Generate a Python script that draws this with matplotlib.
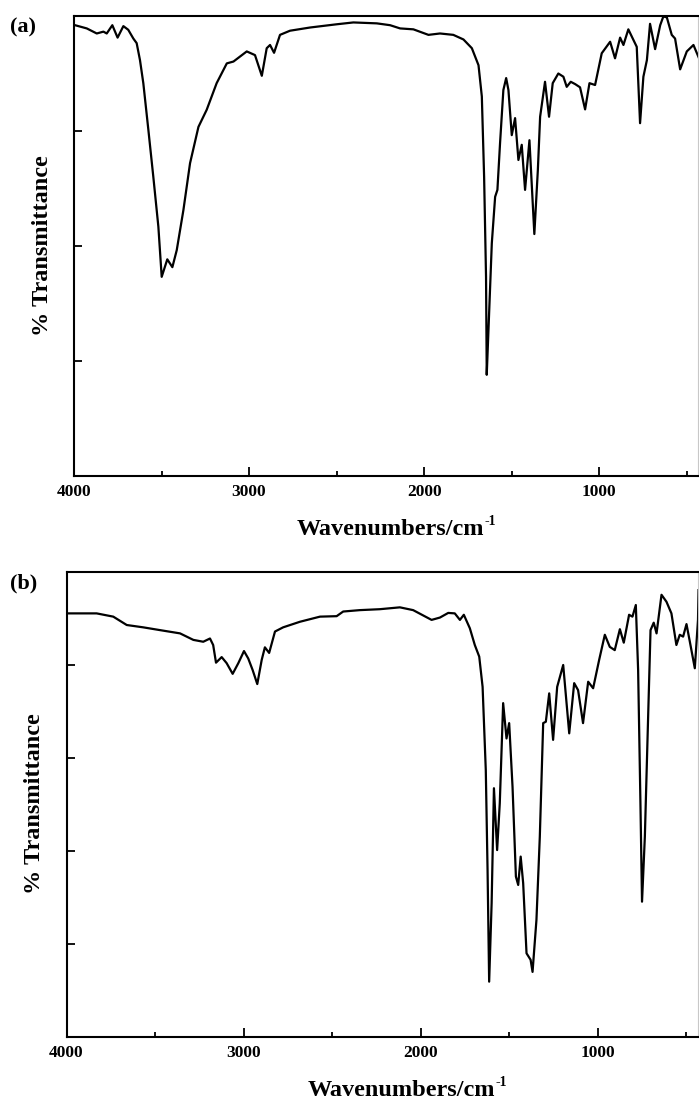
import matplotlib
matplotlib.use("Agg")
import matplotlib.pyplot as plt
from matplotlib.ticker import MultipleLocator

plt.rcParams['font.family'] = ['Liberation Serif', 'DejaVu Serif']
plt.rcParams['font.weight'] = 'bold'

# ---- Panel (a) spectrum ----
wn_a = [3994, 3927, 3870, 3832, 3813, 3781, 3751, 3718, 3690, 3661, 3642, 3623, 3604,
        3575, 3547, 3518, 3499, 3467, 3438, 3413, 3375, 3337, 3289, 3242, 3185, 3127,
        3089, 3013, 2966, 2927, 2899, 2880, 2857, 2823, 2766, 2651, 2499, 2404, 2270,
        2194, 2137, 2061, 1975, 1909, 1833, 1775, 1727, 1689, 1670, 1657, 1646, 1642,
        1638, 1613, 1594, 1581, 1566, 1547, 1531, 1518, 1499, 1480, 1461, 1442, 1423,
        1398, 1370, 1350, 1337, 1309, 1286, 1265, 1233, 1204, 1185, 1162, 1137, 1109,
        1080, 1055, 1023, 985, 937, 909, 880, 861, 833, 804, 785, 766, 747, 727, 709,
        680, 651, 633, 613, 585, 566, 537, 499, 461, 429]
tr_a = [98.0, 97.3, 96.2, 96.6, 96.2, 98.0, 95.3, 97.8, 97.0, 95.1, 94.1, 90.4, 85.4,
        75.2, 65.1, 54.2, 43.3, 47.1, 45.4, 49.1, 57.8, 68.0, 75.9, 79.6, 85.4, 89.7,
        90.1, 92.3, 91.5, 87.0, 93.0, 93.7, 92.0, 95.9, 96.8, 97.5, 98.2, 98.6, 98.4,
        98.0, 97.3, 97.1, 95.9, 96.2, 95.9, 94.9, 93.0, 89.3, 82.5, 65.1, 43.3, 22.0,
        25.9, 50.6, 60.7, 62.2, 72.3, 83.9, 86.5, 83.9, 74.1, 77.8, 68.7, 72.0, 62.2,
        73.0, 52.6, 66.5, 78.1, 85.7, 78.1, 85.4, 87.5, 86.8, 84.6, 85.7, 85.2, 84.5,
        79.7, 85.4, 85.0, 91.9, 94.4, 90.8, 95.3, 93.7, 97.1, 94.8, 93.3, 76.7, 86.8,
        90.4, 98.3, 92.8, 98.0, 99.9, 99.7, 95.9, 95.1, 88.4, 92.3, 93.7, 90.8]

# ---- Panel (b) spectrum ----
wn_b = [3999, 3830, 3736, 3660, 3567, 3472, 3359, 3284, 3228, 3190, 3172, 3156, 3124,
        3096, 3062, 3030, 2998, 2974, 2949, 2923, 2898, 2880, 2856, 2823, 2777, 2682,
        2569, 2475, 2438, 2344, 2231, 2118, 2043, 1939, 1892, 1845, 1808, 1779, 1757,
        1723, 1695, 1670, 1651, 1633, 1623, 1614, 1600, 1587, 1569, 1554, 1535, 1516,
        1501, 1482, 1463, 1450, 1436, 1422, 1403, 1380, 1369, 1347, 1328, 1309, 1294,
        1275, 1253, 1230, 1196, 1162, 1134, 1112, 1084, 1055, 1027, 993, 961, 933, 905,
        876, 854, 824, 805, 786, 773, 760, 751, 735, 717, 703, 685, 669, 641, 613, 585,
        557, 538, 519, 500, 481, 453, 435, 432]
tr_b = [91.1, 91.1, 90.4, 88.6, 88.1, 87.5, 86.8, 85.4, 85.0, 85.7, 84.3, 80.5, 81.7,
        80.4, 78.1, 80.4, 83.0, 81.4, 78.9, 75.9, 81.1, 83.8, 82.6, 87.2, 88.1, 89.3,
        90.4, 90.5, 91.5, 91.8, 92.0, 92.4, 91.8, 89.7, 90.2, 91.2, 91.1, 89.7, 90.8,
        87.9, 84.3, 81.8, 75.3, 57.4, 35.9, 11.9, 28.8, 53.5, 40.2, 50.3, 71.8, 64.2,
        67.5, 53.8, 34.5, 32.7, 38.8, 33.1, 18.0, 16.6, 14.0, 25.2, 43.1, 67.5, 67.8,
        73.9, 63.9, 75.3, 80.0, 65.3, 76.1, 74.6, 67.5, 76.4, 75.0, 81.1, 86.5, 83.9, 83.2,
        87.7, 84.8, 90.8, 90.4, 92.9, 78.9, 50.3, 29.1, 43.1, 68.2, 87.5, 89.1, 86.8, 95.1,
        93.6, 91.1, 84.3, 86.5, 86.1, 88.8, 85.0, 79.3, 89.7, 96.1]

panel_labels = ['(a)', '(b)']
xlabel_main = 'Wavenumbers/cm'
xlabel_sup = '-1'
ylabel_text = '% Transmittance'
xticks_major = [4000, 3000, 2000, 1000]

W, H = 699, 1100
fig = plt.figure(figsize=(W / 100, H / 100), dpi=100)

def px_axes(left, top, right, bottom):
    return fig.add_axes([left / W, 1 - bottom / H, (right - left) / W, (bottom - top) / H])

ax_a = px_axes(74, 16, 698, 476)
ax_b = px_axes(66.5, 572, 698, 1037)

configs = [
    (ax_a, wn_a, tr_a, 25, (390, 535), (43, 246), (10, 27), panel_labels[0]),
    (ax_b, wn_b, tr_b, 20, (401, 1096), (35, 804), (10, 583), panel_labels[1]),
]

main_texts = []
for ax, wn, tr, ystep, xl_pos, yl_pos, pl_pos, plab in configs:
    ax.plot(wn, tr, color='black', lw=1.6, solid_joinstyle='round')
    ax.set_xlim(4000, 435)
    ax.set_ylim(0, 100)
    ax.set_xticks(xticks_major)
    ax.xaxis.set_minor_locator(MultipleLocator(500))
    ax.set_yticks([t for t in range(ystep, 100, ystep)])
    ax.set_yticklabels([])
    ax.tick_params(axis='x', which='major', direction='in', length=6.5, width=1.3,
                   labelsize=12.5, pad=6)
    ax.tick_params(axis='x', which='minor', direction='in', length=3.5, width=1.3)
    ax.tick_params(axis='y', which='major', direction='in', length=6, width=1.3,
                   labelleft=False)
    for lab in ax.get_xticklabels():
        lab.set_fontweight('bold')
    for s in ['left', 'bottom', 'top']:
        ax.spines[s].set_linewidth(1.5)
    ax.spines['right'].set_linewidth(0.8)
    ax.spines['right'].set_color('#c8c8c8')
    t = fig.text(xl_pos[0] / W, 1 - xl_pos[1] / H, xlabel_main, ha='center', va='baseline',
                 fontsize=17.5, fontweight='bold')
    main_texts.append((t, xl_pos))
    fig.text(yl_pos[0] / W, 1 - yl_pos[1] / H, ylabel_text, ha='center', va='center',
             rotation=90, fontsize=17.5, fontweight='bold')
    fig.text(pl_pos[0] / W, 1 - pl_pos[1] / H, plab,
             ha='left', va='center', fontsize=16, fontweight='bold')

fig.canvas.draw()
renderer = fig.canvas.get_renderer()
for t, xl_pos in main_texts:
    bb = t.get_window_extent(renderer)
    fig.text((bb.x1 + 1) / W, 1 - (xl_pos[1] - 10) / H, xlabel_sup, ha='left', va='baseline',
             fontsize=10, fontweight='bold')

fig.savefig('out.png', dpi=100)
